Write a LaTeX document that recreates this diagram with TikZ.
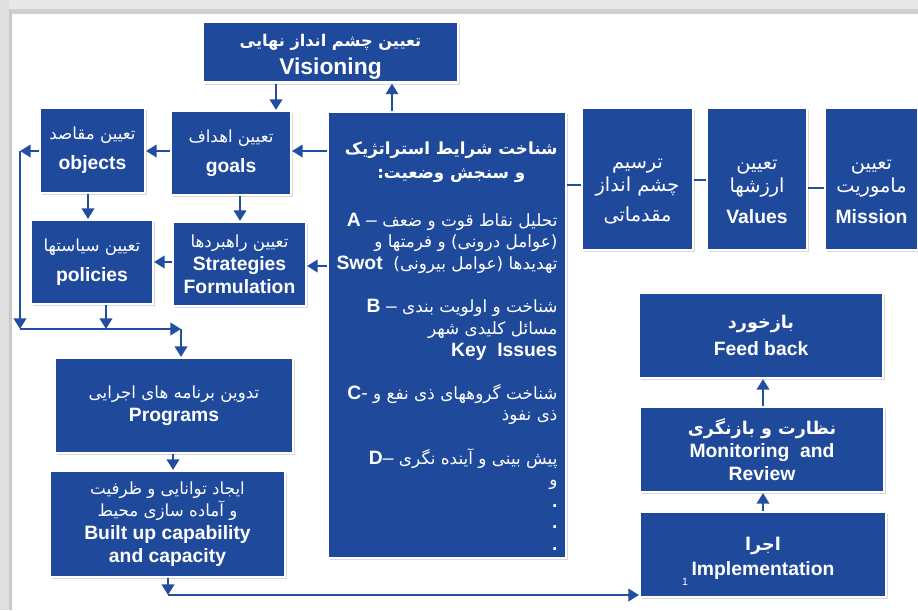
\documentclass[tikz,border=0pt]{standalone}
\usepackage{fontspec}
\setmainfont{Liberation Sans}
\newfontfamily\farsi[Script=Arabic]{DejaVu Sans}
\TeXXeTstate=1
\usetikzlibrary{arrows.meta, shadows}
\definecolor{boxblue}{RGB}{31,73,155}
\definecolor{lineblue}{RGB}{33,78,160}
\newcommand{\fa}[2][9.5]{{\farsi\fontsize{#1}{13}\selectfont\beginR #2\endR}}
\newcommand{\fab}[2][9.5]{{\farsi\bfseries\fontsize{#1}{13}\selectfont\beginR #2\endR}}
\newcommand{\en}[1]{{\bfseries #1}}

\tikzset{
  box/.style={fill=boxblue, draw=white, line width=1.2pt, text=white, align=center,
    inner sep=2pt, font=\fontsize{11}{13}\selectfont,
    drop shadow={shadow xshift=1.3pt, shadow yshift=-1.3pt, opacity=0.3}},
  notes/.style={text=white, align=right, inner sep=2pt, font=\fontsize{11}{12.3}\selectfont},
  flow/.style={draw=lineblue, line width=1.4pt, -{Triangle[width=7pt,length=6pt]}},
  link/.style={draw=lineblue, line width=1.4pt},
}

\begin{document}
\begin{tikzpicture}[x=0.02cm, y=-0.02cm]
    \useasboundingbox (0,0) rectangle (918,610);
    % frame
    \fill[white] (0,0) rectangle (918,610);
    \fill[gray!18] (0,0) rectangle (918,9);
    \fill[gray!38] (0,9) rectangle (918,14);
    \fill[gray!25] (0,0) rectangle (9,610);
    \fill[gray!42] (9,9) rectangle (12,610);

    % top row
    \node[box, minimum width=5.1cm, minimum height=1.16cm] (vision) at (330.5,52)
        {\rule{0pt}{12pt}\fab[9.2]{تعیین چشم انداز نهایی}\\[3pt] \en{\fontsize{13}{14}\selectfont Visioning}};
    \node[box, minimum width=2.1cm, minimum height=1.7cm] (objects) at (92.5,150.5)
        {\fa{تعیین مقاصد}\\[4pt] \en{objects}};
    \node[box, minimum width=2.4cm, minimum height=1.68cm] (goals) at (231,153)
        {\fa{تعیین اهداف}\\[4pt] \en{goals}};
    \node[box, minimum width=2.44cm, minimum height=1.68cm] (policies) at (92,262)
        {\fa{تعیین سیاستها}\\[4pt] \en{policies}};
    \node[box, minimum width=2.66cm, minimum height=1.68cm] (strat) at (239.5,264)
        {\fa{تعیین راهبردها}\\ \en{Strategies}\\ \en{Formulation}};

    % situation analysis
    \node[box, minimum width=4.76cm, minimum height=8.92cm] (sit) at (447,335) {};
    \node[notes, anchor=north] (sitnotes) at ([yshift=-0.54cm]sit.north) {%
        \makebox[4.25cm]{\fab{شناخت شرایط استراتژیک}}\\[1.5pt]
        \makebox[4.25cm]{\fab{و سنجش وضعیت:}}\\[1.2\baselineskip]
        \en{A} – \fa[9.6]{تحلیل نقاط قوت و ضعف}\\
        \fa[9.6]{(عوامل درونی) و فرمتها و}\\
        \en{Swot}\ \ \fa[9.6]{تهدیدها (عوامل بیرونی)}\\[\baselineskip]
        \en{B} – \fa[9.6]{شناخت و اولویت بندی}\\
        \fa[9.6]{مسائل کلیدی شهر}\\
        \en{Key\ \ Issues}\\[\baselineskip]
        \en{C}- \fa[9.6]{شناخت گروههای ذی نفع و}\\
        \fa[9.6]{ذی نفوذ}\\[\baselineskip]
        \en{D}– \fa[9.6]{پیش بینی و آینده نگری}\\
        \fa[9.6]{و}\\ \en{.}\\ \en{.}\\ \en{.}};

    % right row
    \node[box, minimum width=2.22cm, minimum height=2.84cm] (prelim) at (637.5,179)
        {\rule{0pt}{20pt}\fa[11]{ترسیم}\\ \fa[11]{چشم انداز}\\[4pt] \fa[11]{مقدماتی}};
    \node[box, minimum width=2.0cm, minimum height=2.84cm] (values) at (757,179)
        {\rule{0pt}{20pt}\fa[11]{تعیین}\\ \fa[11]{ارزشها}\\[5pt] \en{Values}};
    \node[box, minimum width=1.86cm, minimum height=2.84cm] (mission) at (871.5,179)
        {\rule{0pt}{20pt}\fa[11]{تعیین}\\ \fa[11]{ماموریت}\\[5pt] \en{Mission}};

    % lower left
    \node[box, minimum width=4.76cm, minimum height=1.9cm] (programs) at (174,405.5)
        {\fa{تدوین برنامه های اجرایی}\\ \en{Programs}};
    \node[box, minimum width=4.7cm, minimum height=2.12cm] (built) at (167.5,524)
        {\fa{ایجاد توانایی و ظرفیت}\\ \fa{و آماده سازی محیط}\\ \en{Built up capability}\\ \en{and capacity}};

    % lower right
    \node[box, minimum width=4.88cm, minimum height=1.7cm] (feedback) at (761,335.5)
        {\fab[10]{بازخورد}\\[2pt] \en{Feed back}};
    \node[box, minimum width=4.88cm, minimum height=1.7cm] (monitor) at (762,449.5)
        {\fab[10]{نظارت و بازنگری}\\ \en{Monitoring\ \ and}\\ \en{Review}};
    \node[box, minimum width=4.92cm, minimum height=1.7cm] (impl) at (763,554.5)
        {\rule{0pt}{12pt}\fab[10]{اجرا}\\[1.5pt] \en{Implementation}};
    \node[text=white, font=\fontsize{6}{7}\selectfont, inner sep=0pt] (slidenum) at (685,582) {1};

    % guide coordinates
    \coordinate (v1) at (276,0);
    \coordinate (v2) at (392,0);
    \coordinate (v3) at (106,0);
    \coordinate (v4) at (88,0);
    \coordinate (v5) at (240,0);
    \coordinate (v6) at (173,0);
    \coordinate (v7) at (763,0);
    \coordinate (h1) at (0,151);
    \coordinate (h2) at (0,262);
    \coordinate (h3) at (0,266);
    \coordinate (lt) at (20,151);
    \coordinate (lb) at (20,329);
    \coordinate (jn) at (181,329);
    \coordinate (bj) at (168,595);

    % connectors
    \draw[flow] (vision.south -| v1) -- (goals.north -| v1);
    \draw[flow] (sit.north -| v2) -- (vision.south -| v2);
    \draw[flow] (sit.west |- h1) -- (goals.east |- h1);
    \draw[flow] (goals.west |- h1) -- (objects.east |- h1);
    \draw[flow] (objects.west |- h1) -- (lt);
    \draw[flow] (lt) -- (lb);
    \draw[flow] (lb) -- (jn);
    \draw[flow] (jn) -- (jn |- programs.north);
    \draw[flow] (objects.south -| v4) -- (policies.north -| v4);
    \draw[flow] (goals.south -| v5) -- (strat.north -| v5);
    \draw[flow] (strat.west |- h2) -- (policies.east |- h2);
    \draw[flow] (sit.west |- h3) -- (strat.east |- h3);
    \draw[flow] (policies.south -| v3) -- (lb -| v3);
    \draw[flow] (programs.south -| v6) -- (built.north -| v6);
    \draw[flow] (built.south -| bj) -- (bj);
    \draw[flow] (bj) -- (impl.west |- bj);
    \draw[flow] (impl.north -| v7) -- (monitor.south -| v7);
    \draw[flow] (monitor.north -| v7) -- (feedback.south -| v7);
    \draw[link] (sit.east |- 0,185) -- (prelim.west |- 0,185);
    \draw[link] (prelim.east |- 0,180) -- (values.west |- 0,180);
    \draw[link] (values.east |- 0,188) -- (mission.west |- 0,188);
\end{tikzpicture}
\end{document}
